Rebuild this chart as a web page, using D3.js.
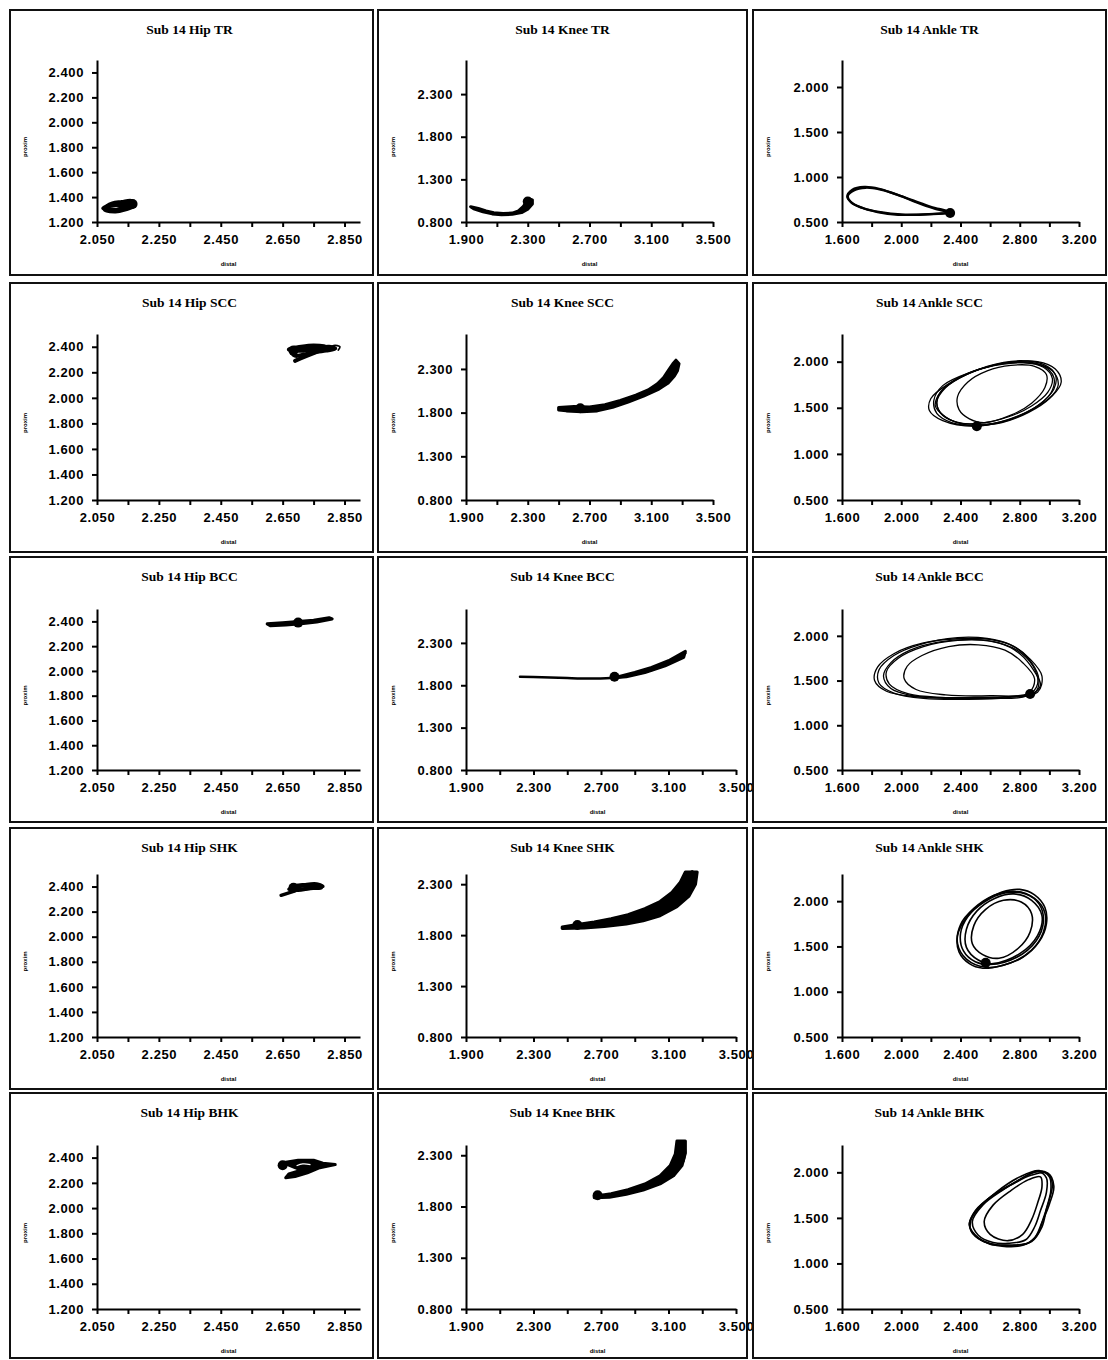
<!DOCTYPE html>
<html><head><meta charset="utf-8">
<script src="https://cdn.jsdelivr.net/npm/d3@7"></script>
<style>body{margin:0;background:#fff}svg{display:block}</style>
</head><body>
<svg id="c" width="1108" height="1360"></svg>
<script>
// ---------- tick values ----------
const hipXTicks = [2.05,2.15,2.25,2.35,2.45,2.55,2.65,2.75,2.85];
const hipXLabels = [2.05,2.25,2.45,2.65,2.85];
const hipYTicks = [1.2,1.4,1.6,1.8,2.0,2.2,2.4];
const kneeXTicks = [1.9,2.1,2.3,2.5,2.7,2.9,3.1,3.3,3.5];
const kneeXLabels = [1.9,2.3,2.7,3.1,3.5];
const kneeYTicks = [0.8,1.3,1.8,2.3];
const ankleXTicks = [1.6,1.8,2.0,2.2,2.4,2.6,2.8,3.0,3.2];
const ankleXLabels = [1.6,2.0,2.4,2.8,3.2];
const ankleYTicks = [0.5,1.0,1.5,2.0];

const tasks = ["TR","SCC","BCC","SHK","BHK"];
const joints = ["Hip","Knee","Ankle"];

// ---------- data: Hip ----------
const hipTR_a = [[2.07,1.31],[2.09,1.33],[2.12,1.34],[2.15,1.35],[2.165,1.34],[2.15,1.32],[2.12,1.30],[2.09,1.30]];
const hipTR_b = [[2.08,1.32],[2.10,1.35],[2.13,1.36],[2.16,1.37],[2.17,1.35],[2.16,1.33],[2.13,1.31],[2.10,1.29]];
const hipTR_c = [[2.075,1.30],[2.10,1.34],[2.14,1.33],[2.165,1.36],[2.17,1.33],[2.14,1.30],[2.11,1.285]];
const hipTR_dot = [2.165,1.345];

const hipSCC_a = [[2.68,2.36],[2.72,2.38],[2.76,2.39],[2.80,2.40],[2.82,2.385],[2.79,2.37],[2.76,2.36],[2.72,2.34],[2.69,2.33]];
const hipSCC_b = [[2.67,2.38],[2.71,2.40],[2.75,2.41],[2.79,2.40],[2.76,2.38],[2.72,2.37],[2.68,2.37]];
const hipSCC_tail = [[2.77,2.37],[2.74,2.34],[2.71,2.31],[2.69,2.29]];
const hipSCC_open = [[2.80,2.375],[2.815,2.41],[2.835,2.40],[2.83,2.375]];
const hipSCC_dot = [2.685,2.37];

const hipBCC_band = [[2.60,2.38],[2.65,2.39],[2.70,2.40],[2.75,2.41],[2.80,2.43],[2.81,2.42],[2.76,2.395],[2.71,2.38],[2.66,2.37],[2.61,2.365]];
const hipBCC_dot = [2.70,2.39];

const hipSHK_a = [[2.67,2.38],[2.70,2.40],[2.74,2.41],[2.77,2.41],[2.775,2.39],[2.74,2.385],[2.70,2.37]];
const hipSHK_b = [[2.68,2.40],[2.72,2.415],[2.76,2.42],[2.78,2.40],[2.75,2.39],[2.71,2.38]];
const hipSHK_tail = [[2.70,2.375],[2.67,2.35],[2.645,2.33]];
const hipSHK_dot = [2.685,2.39];

const hipBHK_band = [[2.65,2.36],[2.70,2.38],[2.75,2.38],[2.78,2.355],[2.82,2.345],[2.77,2.32],[2.73,2.28],[2.69,2.25],[2.66,2.24],[2.67,2.27],[2.71,2.30],[2.68,2.33]];
const hipBHK_gap = [[2.695,2.335],[2.715,2.35],[2.74,2.345]];
const hipBHK_dot = [2.65,2.34];

// ---------- data: Knee ----------
const kneeTR_band = [[1.93,0.98],[1.98,0.96],[2.03,0.93],[2.08,0.91],[2.14,0.90],[2.20,0.905],[2.24,0.93],[2.27,0.98],[2.29,1.03],[2.31,1.07],[2.33,1.06],[2.33,1.01],[2.30,0.95],[2.26,0.91],[2.20,0.89],[2.13,0.885],[2.07,0.895],[2.01,0.92],[1.95,0.955]];
const kneeTR_dot = [2.30,1.04];

const kneeSCC_band = [[2.50,1.86],[2.60,1.87],[2.70,1.865],[2.80,1.89],[2.90,1.94],[3.00,2.00],[3.08,2.06],[3.14,2.13],[3.18,2.20],[3.21,2.28],[3.24,2.36],[3.26,2.40],[3.28,2.36],[3.27,2.28],[3.25,2.22],[3.21,2.14],[3.15,2.07],[3.05,1.99],[2.95,1.92],[2.85,1.86],[2.75,1.82],[2.65,1.81],[2.55,1.82],[2.50,1.83]];
const kneeSCC_dot = [2.64,1.85];

const kneeBCC_line = [[2.22,1.90],[2.35,1.895],[2.50,1.885],[2.65,1.88],[2.78,1.89],[2.90,1.93],[3.00,1.98],[3.10,2.06],[3.20,2.18]];
const kneeBCC_band = [[2.78,1.89],[2.90,1.95],[3.00,2.01],[3.10,2.09],[3.20,2.20],[3.19,2.13],[3.08,2.03],[2.96,1.95],[2.85,1.90]];
const kneeBCC_dot = [2.78,1.90];

const kneeSHK_band = [[2.47,1.88],[2.56,1.905],[2.66,1.93],[2.76,1.96],[2.86,2.00],[2.96,2.06],[3.05,2.13],[3.12,2.22],[3.17,2.32],[3.20,2.42],[3.27,2.42],[3.26,2.30],[3.22,2.18],[3.15,2.08],[3.05,1.99],[2.95,1.94],[2.85,1.91],[2.72,1.885],[2.60,1.87],[2.47,1.865]];
const kneeSHK_strands = [[3.19,2.30],[3.22,2.38],[3.24,2.43],[3.26,2.36],[3.24,2.26]];
const kneeSHK_dot = [2.56,1.90];

const kneeBHK_band = [[2.66,1.90],[2.76,1.925],[2.86,1.965],[2.96,2.02],[3.05,2.10],[3.11,2.20],[3.14,2.31],[3.15,2.44],[3.20,2.44],[3.20,2.32],[3.18,2.20],[3.13,2.10],[3.05,2.02],[2.95,1.96],[2.85,1.92],[2.75,1.89],[2.66,1.885]];
const kneeBHK_strands = [[3.14,2.26],[3.16,2.36],[3.18,2.44],[3.20,2.34],[3.19,2.24]];
const kneeBHK_dot = [2.68,1.91];

// ---------- data: Ankle ----------
const ankleTR_a = [[2.33,0.60],[2.22,0.65],[2.10,0.72],[1.98,0.80],[1.86,0.86],[1.76,0.88],[1.68,0.85],[1.64,0.79],[1.66,0.72],[1.73,0.66],[1.84,0.61],[1.98,0.58],[2.12,0.58],[2.25,0.59]];
const ankleTR_b = [[2.33,0.61],[2.20,0.67],[2.08,0.74],[1.96,0.81],[1.85,0.87],[1.75,0.89],[1.67,0.86],[1.635,0.78],[1.67,0.71],[1.75,0.65],[1.86,0.61],[2.00,0.585],[2.15,0.585],[2.27,0.595]];
const ankleTR_dot = [2.33,0.60];

const ankleSCC_1 = [[2.50,1.30],[2.70,1.36],[2.88,1.48],[3.02,1.63],[3.08,1.78],[3.04,1.92],[2.92,2.00],[2.72,1.99],[2.50,1.90],[2.32,1.76],[2.20,1.60],[2.19,1.47],[2.28,1.36]];
const ankleSCC_2 = [[2.52,1.33],[2.72,1.40],[2.88,1.52],[2.99,1.67],[3.02,1.82],[2.96,1.94],[2.82,1.99],[2.62,1.96],[2.44,1.86],[2.30,1.72],[2.24,1.56],[2.28,1.42],[2.38,1.34]];
const ankleSCC_3 = [[2.55,1.31],[2.75,1.38],[2.92,1.52],[3.03,1.70],[3.04,1.86],[2.96,1.97],[2.80,2.01],[2.58,1.95],[2.40,1.83],[2.27,1.68],[2.23,1.52],[2.30,1.40],[2.42,1.32]];
const ankleSCC_4 = [[2.56,1.34],[2.74,1.42],[2.88,1.55],[2.97,1.72],[2.98,1.86],[2.90,1.95],[2.74,1.96],[2.58,1.90],[2.45,1.78],[2.38,1.62],[2.39,1.48],[2.46,1.38]];
const ankleSCC_5 = [[2.48,1.31],[2.68,1.34],[2.86,1.45],[3.00,1.60],[3.06,1.75],[3.02,1.90],[2.90,1.98],[2.68,1.97],[2.46,1.88],[2.28,1.74],[2.22,1.58],[2.24,1.44],[2.34,1.34]];
const ankleSCC_6 = [[2.53,1.32],[2.72,1.37],[2.90,1.50],[3.01,1.66],[3.03,1.83],[2.95,1.96],[2.78,2.00],[2.55,1.93],[2.36,1.80],[2.25,1.63],[2.25,1.48],[2.33,1.37]];
const ankleSCC_dot = [2.51,1.30];

const ankleBCC_1 = [[2.90,1.36],[2.70,1.32],[2.40,1.31],[2.10,1.32],[1.90,1.38],[1.82,1.50],[1.84,1.65],[1.95,1.80],[2.15,1.92],[2.40,1.97],[2.60,1.96],[2.76,1.88],[2.88,1.70],[2.93,1.50]];
const ankleBCC_2 = [[2.88,1.35],[2.65,1.31],[2.35,1.30],[2.08,1.33],[1.93,1.41],[1.88,1.55],[1.93,1.70],[2.06,1.84],[2.25,1.93],[2.48,1.96],[2.66,1.92],[2.80,1.80],[2.90,1.60],[2.94,1.45]];
const ankleBCC_3 = [[2.86,1.36],[2.60,1.33],[2.30,1.34],[2.10,1.40],[2.02,1.52],[2.04,1.66],[2.14,1.78],[2.32,1.88],[2.52,1.90],[2.70,1.84],[2.82,1.70],[2.90,1.52]];
const ankleBCC_4 = [[2.92,1.37],[2.72,1.31],[2.45,1.29],[2.15,1.30],[1.95,1.36],[1.85,1.47],[1.85,1.62],[1.95,1.78],[2.12,1.90],[2.38,1.98],[2.58,1.97],[2.74,1.90],[2.87,1.74],[2.95,1.55]];
const ankleBCC_5 = [[2.85,1.33],[2.60,1.30],[2.30,1.31],[2.05,1.35],[1.92,1.46],[1.90,1.60],[1.98,1.75],[2.15,1.88],[2.38,1.95],[2.60,1.94],[2.78,1.84],[2.89,1.66],[2.92,1.46]];
const ankleBCC_dot = [2.87,1.35];

const ankleSHK_1 = [[2.55,1.26],[2.68,1.29],[2.82,1.38],[2.93,1.55],[2.98,1.75],[2.97,1.93],[2.90,2.07],[2.80,2.13],[2.68,2.10],[2.55,1.99],[2.44,1.82],[2.38,1.62],[2.39,1.44],[2.46,1.31]];
const ankleSHK_2 = [[2.60,1.30],[2.78,1.38],[2.91,1.56],[2.96,1.78],[2.93,1.97],[2.84,2.08],[2.70,2.09],[2.56,1.99],[2.45,1.83],[2.40,1.64],[2.42,1.45],[2.50,1.33]];
const ankleSHK_3 = [[2.57,1.27],[2.74,1.32],[2.88,1.46],[2.96,1.66],[2.97,1.87],[2.90,2.03],[2.77,2.11],[2.62,2.06],[2.49,1.92],[2.40,1.74],[2.38,1.53],[2.44,1.36]];
const ankleSHK_4 = [[2.62,1.31],[2.80,1.42],[2.92,1.62],[2.95,1.84],[2.88,2.01],[2.76,2.08],[2.63,2.03],[2.51,1.89],[2.44,1.69],[2.44,1.49],[2.52,1.35]];
const ankleSHK_5 = [[2.66,1.37],[2.79,1.48],[2.87,1.66],[2.88,1.86],[2.81,1.99],[2.69,2.01],[2.57,1.91],[2.49,1.73],[2.48,1.53],[2.55,1.41]];
const ankleSHK_dot = [2.57,1.32];

const ankleBHK_1 = [[2.70,1.20],[2.85,1.22],[2.92,1.32],[2.96,1.50],[3.00,1.70],[3.02,1.88],[2.98,2.00],[2.90,2.00],[2.78,1.90],[2.62,1.75],[2.50,1.58],[2.46,1.42],[2.52,1.28],[2.60,1.21]];
const ankleBHK_2 = [[2.72,1.22],[2.84,1.26],[2.90,1.40],[2.94,1.58],[2.98,1.78],[2.98,1.94],[2.92,2.01],[2.82,1.94],[2.68,1.80],[2.55,1.64],[2.48,1.46],[2.52,1.31],[2.62,1.23]];
const ankleBHK_3 = [[2.68,1.19],[2.82,1.20],[2.90,1.28],[2.95,1.45],[3.00,1.65],[3.03,1.85],[2.99,1.99],[2.88,1.97],[2.74,1.86],[2.58,1.70],[2.48,1.52],[2.47,1.36],[2.56,1.24]];
const ankleBHK_4 = [[2.72,1.25],[2.82,1.32],[2.88,1.48],[2.92,1.66],[2.95,1.84],[2.94,1.95],[2.86,1.92],[2.74,1.80],[2.62,1.64],[2.56,1.46],[2.60,1.32]];
const ankleBHK_5 = [[2.75,1.20],[2.88,1.24],[2.95,1.40],[2.98,1.60],[3.01,1.80],[3.00,1.95],[2.93,2.02],[2.80,1.95],[2.64,1.78],[2.52,1.60],[2.46,1.44],[2.50,1.30],[2.60,1.22]];

// ---------- panel table built from the arrays ----------
const axesSpec = {
  Hip:   {xd:[2.05,2.9], yd:[1.2,2.5], xt:hipXTicks, xl:hipXLabels, yt:hipYTicks},
  Knee:  {xd:[1.9,3.5],  yd:[0.8,2.7], xt:kneeXTicks, xl:kneeXLabels, yt:kneeYTicks},
  Ankle: {xd:[1.6,3.2],  yd:[0.5,2.3], xt:ankleXTicks, xl:ankleXLabels, yt:ankleYTicks}
};
const kneeYDomainLate = [0.8,2.4];
const panelData = {
  "Hip TR":   {loops:[hipTR_a,hipTR_b,hipTR_c], lw:4, dot:hipTR_dot},
  "Hip SCC":  {loops:[hipSCC_a,hipSCC_b], lines:[hipSCC_tail], thin:[hipSCC_open], lw:4, dot:hipSCC_dot},
  "Hip BCC":  {bands:[hipBCC_band], dot:hipBCC_dot},
  "Hip SHK":  {loops:[hipSHK_a,hipSHK_b], lines:[hipSHK_tail], lw:3.5, dot:hipSHK_dot},
  "Hip BHK":  {bands:[hipBHK_band], white:[hipBHK_gap], dot:hipBHK_dot},
  "Knee TR":  {bands:[kneeTR_band], dot:kneeTR_dot},
  "Knee SCC": {bands:[kneeSCC_band], dot:kneeSCC_dot},
  "Knee BCC": {lines:[kneeBCC_line], bands:[kneeBCC_band], lw:2.5, dot:kneeBCC_dot},
  "Knee SHK": {bands:[kneeSHK_band], thin:[kneeSHK_strands], dot:kneeSHK_dot},
  "Knee BHK": {bands:[kneeBHK_band], thin:[kneeBHK_strands], dot:kneeBHK_dot},
  "Ankle TR": {loops:[ankleTR_a,ankleTR_b], lw:2.2, dot:ankleTR_dot},
  "Ankle SCC":{loops:[ankleSCC_1,ankleSCC_2,ankleSCC_3,ankleSCC_4,ankleSCC_5,ankleSCC_6], lw:1.3, dot:ankleSCC_dot},
  "Ankle BCC":{loops:[ankleBCC_1,ankleBCC_2,ankleBCC_3,ankleBCC_4,ankleBCC_5], lw:1.3, dot:ankleBCC_dot},
  "Ankle SHK":{loops:[ankleSHK_1,ankleSHK_2,ankleSHK_3,ankleSHK_4,ankleSHK_5], lw:1.6, dot:ankleSHK_dot},
  "Ankle BHK":{loops:[ankleBHK_1,ankleBHK_2,ankleBHK_3,ankleBHK_4,ankleBHK_5], lw:1.6}
};

// ---------- layout ----------
const rowBox = [[10,275],[283,552],[557,822],[828,1089],[1093,1358]];
const rowAxisY = [222,500,770,1037,1309];
const rowPlotH = [162,166,161,163,164];
const colBox = [[10,373],[378,747],[753,1106]];
const colAxisX = [97,466,842];
const colPlotW = [263,247,237];
const kneeWideW = 270;

const svg = d3.select("#c");
svg.append("rect").attr("width",1108).attr("height",1360).attr("fill","#fff");
const fmt = d3.format(".3f");

tasks.forEach((task, r) => {
  joints.forEach((joint, c) => {
    const name = joint + " " + task;
    const spec = axesSpec[joint];
    const d = panelData[name];
    const [bx0,bx1] = colBox[c], [by0,by1] = rowBox[r];
    const g = svg.append("g");

    const ox = colAxisX[c], oy = rowAxisY[r], H = rowPlotH[r];
    const W = (joint === "Knee" && r >= 2) ? kneeWideW : colPlotW[c];
    const yd = (joint === "Knee" && r >= 3) ? kneeYDomainLate : spec.yd;
    const x = d3.scaleLinear().domain(spec.xd).range([ox, ox+W]);
    const y = d3.scaleLinear().domain(yd).range([oy, oy-H]);

    const xa = g.append("g").attr("transform",`translate(0,${oy})`)
      .call(d3.axisBottom(x).tickValues(spec.xt).tickSize(5).tickSizeOuter(0).tickPadding(8)
        .tickFormat(v => spec.xl.some(l => Math.abs(l-v)<1e-9) ? fmt(v) : ""));
    const ya = g.append("g").attr("transform",`translate(${ox},0)`)
      .call(d3.axisLeft(y).tickValues(spec.yt).tickSize(5).tickSizeOuter(0).tickPadding(8).tickFormat(fmt));
    [xa,ya].forEach(a => {
      a.select(".domain").attr("stroke","#000").attr("stroke-width",2);
      a.selectAll(".tick line").attr("stroke","#000").attr("stroke-width",2);
      a.selectAll("text").attr("font-family","Liberation Sans, Arial, sans-serif")
        .attr("font-size",13).attr("font-weight","bold").attr("fill","#000").attr("letter-spacing",0.6);
    });

    g.append("text").attr("x",ox+Math.min(W,263)/2).attr("y",oy+44).attr("text-anchor","middle")
      .attr("font-family","Liberation Sans, sans-serif").attr("font-size",6).attr("font-weight","bold")
      .attr("fill","#000").text("distal");
    g.append("text").attr("transform",`translate(${bx0+17},${oy-H/2+6}) rotate(-90)`).attr("text-anchor","middle")
      .attr("font-family","Liberation Sans, sans-serif").attr("font-size",6).attr("font-weight","bold")
      .attr("fill","#000").text("proxim");

    const closed = d3.line().x(p=>x(p[0])).y(p=>y(p[1])).curve(d3.curveCatmullRomClosed.alpha(0.5));
    const open = d3.line().x(p=>x(p[0])).y(p=>y(p[1])).curve(d3.curveCatmullRom.alpha(0.5));
    const poly = d3.line().x(p=>x(p[0])).y(p=>y(p[1])).curve(d3.curveLinearClosed);
    const lw = d.lw || 2;
    (d.bands||[]).forEach(b => g.append("path").attr("d",poly(b)).attr("fill","#000")
      .attr("stroke","#000").attr("stroke-width",3).attr("stroke-linejoin","round"));
    (d.loops||[]).forEach(l => g.append("path").attr("d",closed(l)).attr("fill","none")
      .attr("stroke","#000").attr("stroke-width",lw).attr("stroke-linejoin","round"));
    (d.lines||[]).forEach(l => g.append("path").attr("d",open(l)).attr("fill","none")
      .attr("stroke","#000").attr("stroke-width",lw).attr("stroke-linecap","round"));
    (d.thin||[]).forEach(l => g.append("path").attr("d",open(l)).attr("fill","none")
      .attr("stroke","#000").attr("stroke-width",1.8).attr("stroke-linecap","round"));
    (d.white||[]).forEach(l => g.append("path").attr("d",open(l)).attr("fill","none")
      .attr("stroke","#fff").attr("stroke-width",1.2));
    if (d.dot) g.append("circle").attr("cx",x(d.dot[0])).attr("cy",y(d.dot[1])).attr("r",5).attr("fill","#000");

    // panel frame and title drawn last so the frame overlaps the cut label
    g.append("rect").attr("x",bx0).attr("y",by0).attr("width",bx1-bx0).attr("height",by1-by0)
      .attr("fill","none").attr("stroke","#111").attr("stroke-width",2);
    g.append("text").attr("x",(bx0+bx1)/2 + (c===0?-2:0)).attr("y",by0+24).attr("text-anchor","middle")
      .attr("font-family","Liberation Serif, serif").attr("font-size",13.5).attr("font-weight","bold")
      .attr("fill","#000").text("Sub 14 " + name);
  });
});
</script>
</body></html>
